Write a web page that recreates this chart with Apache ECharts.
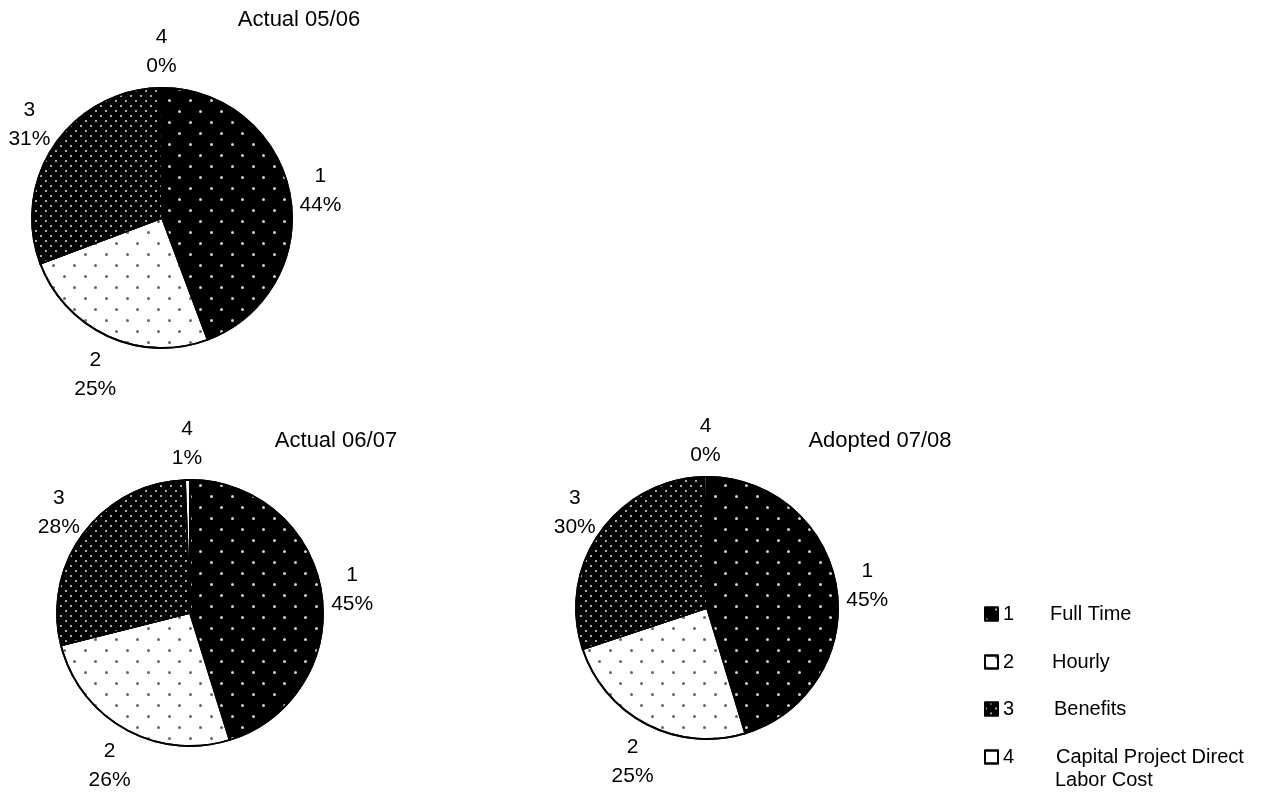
<!DOCTYPE html>
<html><head><meta charset="utf-8">
<script src="https://cdn.jsdelivr.net/npm/echarts@6/dist/echarts.min.js"></script>
<style>html,body{margin:0;padding:0;background:#fff}#c{width:1267px;height:794px}</style>
</head><body><div id="c"></div>
<script>
const categories = ['1', '2', '3', '4'];
const legendNames = ['Full Time', 'Hourly', 'Benefits', 'Capital Project Direct\nLabor Cost'];
const titles = ['Actual 05/06', 'Actual 06/07', 'Adopted 07/08'];
const values0506 = [44.3, 25.0, 30.6, 0.1];
const values0607 = [45.2, 25.9, 28.3, 0.6];
const values0708 = [45.3, 24.6, 29.8, 0.3];

const FONT = 'Liberation Sans, Arial, sans-serif';
const sparse = {dashArrayX: [[2.6, 17.4], [0, 10, 2.6, 7.4]], dashArrayY: [2.6, 7.4]};
const dense = {dashArrayX: [[2, 8], [0, 5, 2, 3]], dashArrayY: [2, 3]};
const sliceStyles = [
  {color: '#000', decal: Object.assign({symbol: 'circle', symbolSize: 1, color: '#d0d0d0'}, sparse)},
  {color: '#fff', decal: Object.assign({symbol: 'circle', symbolSize: 1, color: '#666'}, sparse)},
  {color: '#000', decal: Object.assign({symbol: 'circle', symbolSize: 1, color: '#e6e6e6'}, dense)},
  {color: '#fff', decal: {symbol: 'none'}}
];

function mkData(vals) {
  return categories.map((c, i) => ({
    name: c, value: vals[i],
    itemStyle: {color: sliceStyles[i].color, decal: sliceStyles[i].decal, borderColor: '#000', borderWidth: 1.8}
  }));
}

const pies = [
  {vals: values0506, center: [162, 218], r: 130},
  {vals: values0607, center: [190, 613], r: 133},
  {vals: values0708, center: [707, 608], r: 131}
];

const GAP = 10;
function excelLabelLayout(params) {
  const pts = params.labelLinePoints;
  if (!pts || pts.length < 2) return {};
  const p0 = pts[0], p1 = pts[1];
  let dx = p1[0] - p0[0], dy = p1[1] - p0[1];
  const len = Math.hypot(dx, dy) || 1;
  dx /= len; dy /= len;
  const w = params.labelRect.width, h = params.labelRect.height;
  const ax = p0[0] + dx * GAP, ay = p0[1] + dy * GAP;
  return {x: ax + dx * w / 2, y: ay + dy * h / 2 + 3, align: 'center', verticalAlign: 'middle'};
}

const series = pies.map(p => ({
  type: 'pie',
  center: p.center,
  radius: p.r,
  startAngle: 90,
  clockwise: true,
  silent: true,
  avoidLabelOverlap: false,
  label: {
    show: true, position: 'outside', color: '#000', fontFamily: FONT, fontSize: 21, lineHeight: 29,
    overflow: 'none',
    formatter: d => d.name + '\n' + Math.round(d.value) + '%'
  },
  labelLine: {show: true, length: 10, length2: 1, lineStyle: {width: 0, opacity: 0}},
  labelLayout: excelLabelLayout,
  data: mkData(p.vals)
}));

const legendTops = [597, 645, 692, 740];
const legends = categories.map((c, i) => ({
  orient: 'vertical', left: 979, top: legendTops[i], itemWidth: 13, itemHeight: 13,
  icon: 'rect', selectedMode: false,
  data: [c],
  formatter: name => '{n|' + name + '}{d|' + legendNames[i].split('\n')[0] + '}',
  textStyle: {
    fontFamily: FONT, fontSize: 20, color: '#000', lineHeight: 24,
    rich: {n: {width: 47 + i * 2, fontSize: 20, fontFamily: FONT, lineHeight: 24}, d: {fontSize: 20, fontFamily: FONT, lineHeight: 24}}
  }
}));

const chart = echarts.init(document.getElementById('c'), null, {renderer: 'canvas'});
chart.setOption({
  animation: false,
  title: [
    {text: titles[0], left: 299, top: 7, textAlign: 'center'},
    {text: titles[1], left: 336, top: 428, textAlign: 'center'},
    {text: titles[2], left: 880, top: 428, textAlign: 'center'}
  ].map(t => Object.assign(t, {padding: 0, textStyle: {fontFamily: FONT, fontSize: 22, lineHeight: 26, fontWeight: 'normal', color: '#000'}})),
  legend: legends,
  graphic: [{
    type: 'text', left: 1055, top: 770,
    style: {text: legendNames[3].split('\n')[1], fontFamily: FONT, fontSize: 20, fill: '#000'}
  }],
  series: series
});
</script></body></html>
